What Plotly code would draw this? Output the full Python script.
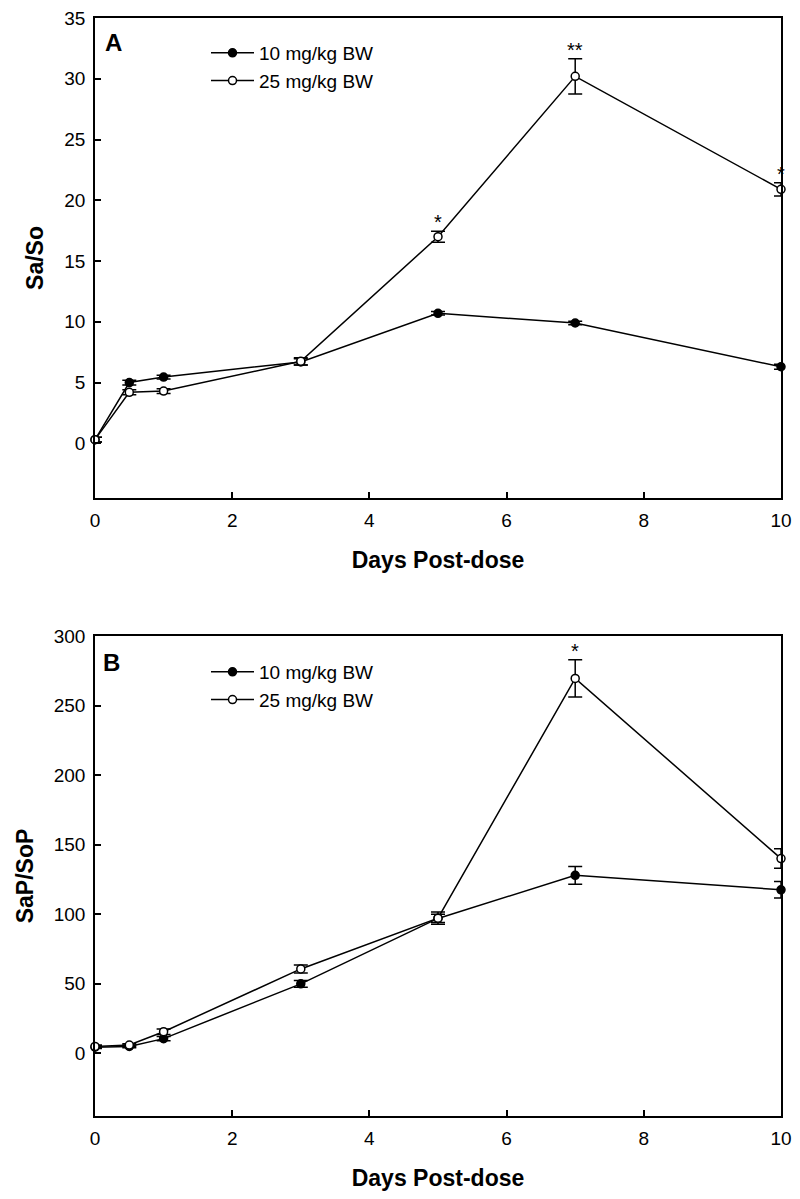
import plotly.graph_objects as go

days = [0, 0.5, 1, 3, 5, 7, 10]

a_10 = [0.3, 5.0, 5.45, 6.7, 10.7, 9.9, 6.3]
a_10_err = [0.2, 0.2, 0.15, 0.25, 0.15, 0.15, 0.2]
a_25 = [0.3, 4.2, 4.3, 6.75, 17.0, 30.2, 20.9]
a_25_err = [0.2, 0.2, 0.2, 0.3, 0.45, 1.45, 0.55]

b_10 = [4.5, 5.0, 10.6, 50.0, 97.0, 128.0, 117.6]
b_10_err = [1.0, 1.0, 1.5, 2.4, 3.0, 6.4, 6.0]
b_25 = [5.0, 6.0, 15.6, 60.7, 97.2, 269.5, 140.0]
b_25_err = [1.0, 1.0, 2.0, 2.9, 4.4, 13.4, 7.0]

a_star_x = [5, 7, 10]
a_star_txt = ["*", "**", "*"]
b_star_x = [7]
b_star_txt = ["*"]

labels = ["10 mg/kg BW", "25 mg/kg BW"]
FONT = "Arial, Liberation Sans, sans-serif"

# page body has an 8px margin; figure sized to fit the 800x1199 window
OFF = 8
W, H = 800 - 2 * OFF, 1199 - 2 * OFF
ML = 95 - OFF
MT = 18 - OFF
MR = W - (781 - OFF)
MB = H - (1116 - OFF)
PW, PH = W - ML - MR, H - MT - MB

def px_x(p): return (p - OFF - ML) / PW
def px_y(p): return 1 - (p - OFF - MT) / PH

fig = go.Figure()

def add_series(y, err, name, filled, xa, ya, legend):
    fig.add_trace(go.Scatter(
        x=days, y=y, name=name, mode="lines+markers",
        xaxis=xa, yaxis=ya, legend=legend, showlegend=True,
        cliponaxis=False,
        line=dict(color="black", width=1.5),
        marker=dict(symbol="circle", size=8,
                    color="black" if filled else "white",
                    line=dict(color="black", width=1.5)),
        error_y=dict(type="data", array=err, visible=True,
                     color="black", thickness=1.5, width=7),
    ))

add_series(a_10, a_10_err, labels[0], True, "x", "y", "legend")
add_series(a_25, a_25_err, labels[1], False, "x", "y", "legend")
add_series(b_10, b_10_err, labels[0], True, "x2", "y2", "legend2")
add_series(b_25, b_25_err, labels[1], False, "x2", "y2", "legend2")

annotations = []
for xv, t in zip(a_star_x, a_star_txt):
    i = days.index(xv)
    annotations.append(dict(x=xv, y=a_25[i] + a_25_err[i], xref="x", yref="y",
                            text=t, showarrow=False, yanchor="bottom",
                            yshift=-4, font=dict(family=FONT, size=20, color="black")))
for xv, t in zip(b_star_x, b_star_txt):
    i = days.index(xv)
    annotations.append(dict(x=xv, y=b_25[i] + b_25_err[i], xref="x2", yref="y2",
                            text=t, showarrow=False, yanchor="bottom",
                            yshift=-4, font=dict(family=FONT, size=20, color="black")))

annotations.append(dict(x=px_x(113), y=px_y(43), xref="paper", yref="paper",
                        text="<b>A</b>", showarrow=False, xanchor="center", yanchor="middle",
                        font=dict(family=FONT, size=24, color="black")))
annotations.append(dict(x=px_x(111), y=px_y(662), xref="paper", yref="paper",
                        text="<b>B</b>", showarrow=False, xanchor="center", yanchor="middle",
                        font=dict(family=FONT, size=24, color="black")))

common_axis = dict(showline=True, linecolor="black", linewidth=1.5, mirror=True,
                   ticks="inside", ticklen=6, tickwidth=1.5, tickcolor="black",
                   showgrid=False, zeroline=False, automargin=False,
                   ticklabelstandoff=4, ticklabeloverflow="allow",
                   tickfont=dict(family=FONT, size=19, color="black"))

title_font = dict(family=FONT, size=23, color="black")
xdom = [0, 1]
fig.update_layout(
    width=W, height=H,
    margin=dict(l=ML, r=MR, t=MT, b=MB, autoexpand=False),
    paper_bgcolor="white", plot_bgcolor="white",
    showlegend=True,
    annotations=annotations,
    xaxis=dict(domain=xdom, anchor="y", range=[0, 10], tickvals=[0, 2, 4, 6, 8, 10],
               title=dict(text="<b>Days Post-dose</b>", font=title_font, standoff=22),
               **common_axis),
    yaxis=dict(domain=[px_y(498), px_y(18)], anchor="x", range=[-4.5, 35],
               tickvals=[0, 5, 10, 15, 20, 25, 30, 35],
               title=dict(text="<b>Sa/So</b>", font=title_font, standoff=14),
               **common_axis),
    xaxis2=dict(domain=xdom, anchor="y2", range=[0, 10], tickvals=[0, 2, 4, 6, 8, 10],
                title=dict(text="<b>Days Post-dose</b>", font=title_font, standoff=22),
                **common_axis),
    yaxis2=dict(domain=[px_y(1116), px_y(636)], anchor="x2", range=[-45, 300],
                tickvals=[0, 50, 100, 150, 200, 250, 300],
                title=dict(text="<b>SaP/SoP</b>", font=title_font, standoff=14),
                **common_axis),
    legend=dict(x=px_x(206), y=px_y(34), xanchor="left", yanchor="top",
                bgcolor="rgba(0,0,0,0)", borderwidth=0, itemwidth=43,
                font=dict(family=FONT, size=19, color="black"), tracegroupgap=0),
    legend2=dict(x=px_x(206), y=px_y(653), xanchor="left", yanchor="top",
                 bgcolor="rgba(0,0,0,0)", borderwidth=0, itemwidth=43,
                 font=dict(family=FONT, size=19, color="black"), tracegroupgap=0),
)

fig.write_html("out.html")
